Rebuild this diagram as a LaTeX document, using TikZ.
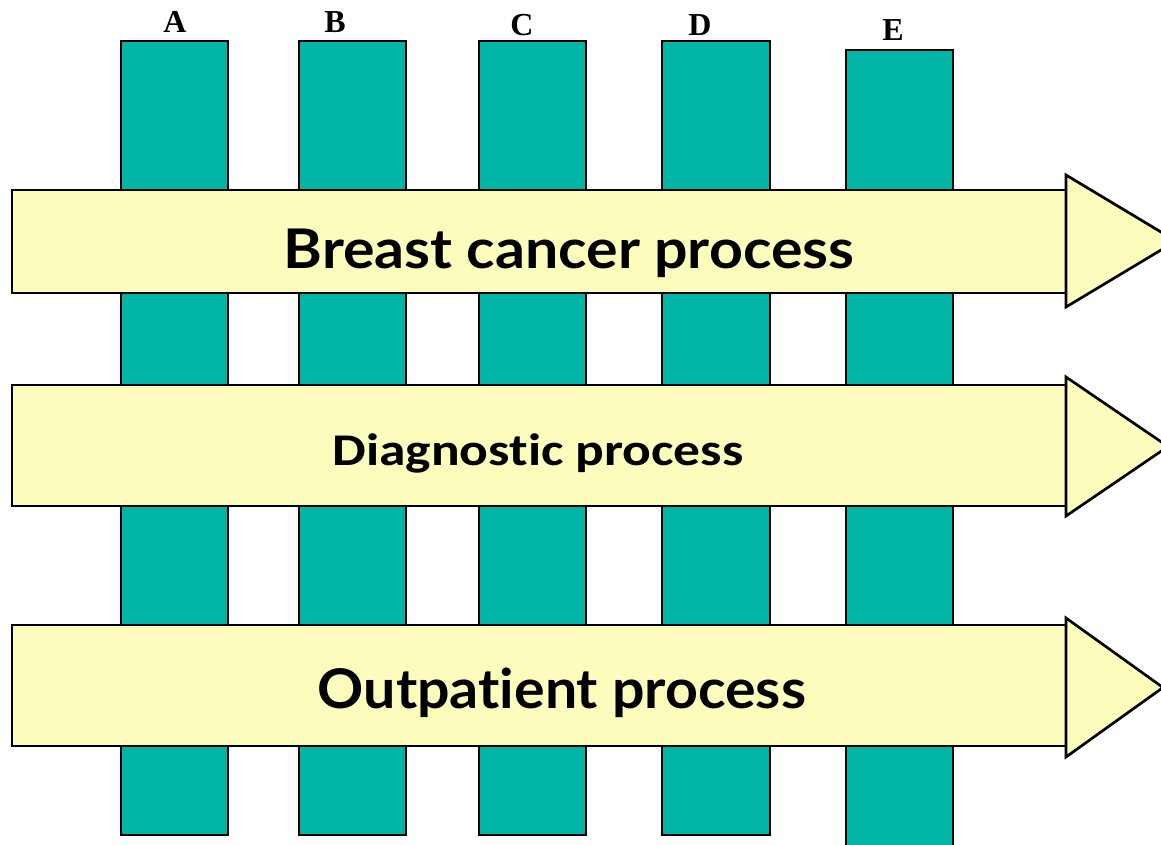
\documentclass[tikz,border=0pt]{standalone}
\usepackage{fontspec}
\setmainfont{Liberation Serif}
\newfontfamily\comicfont[FakeStretch=1.08,Ligatures={NoCommon}]{Lato}
\newfontfamily\calfont[FakeStretch=1.18,Ligatures={NoCommon}]{Carlito}
\definecolor{teal1}{RGB}{0,181,166}
\definecolor{pale}{RGB}{252,252,188}
\tikzset{
  colbox/.style={fill=teal1,draw=black,line width=1.6pt},
  barbox/.style={fill=pale,draw=black,line width=2pt,line join=miter},
  collabel/.style={font=\bfseries\fontsize{24}{24}\selectfont,anchor=base,inner sep=0pt},
  comiclabel/.style={font=\comicfont\bfseries\fontsize{41}{41}\selectfont,anchor=base,inner sep=0pt},
  callabel/.style={font=\calfont\bfseries\fontsize{34}{34}\selectfont,anchor=base,inner sep=0pt}
}
\begin{document}
\begin{tikzpicture}[x=0.75pt,y=-0.75pt]
\useasboundingbox (0,0) rectangle (1161,844);
\begin{scope}
\clip (0,0) rectangle (1161,844);
% columns
\draw[colbox] (121,41) rectangle (228,835);
\draw[colbox] (299,41) rectangle (406,835);
\draw[colbox] (479,41) rectangle (586,835);
\draw[colbox] (662,41) rectangle (770,835);
\draw[colbox] (846,50) rectangle (953,860);
% bars
\draw[barbox] (12,190) rectangle (1066,293);
\draw[barbox] (1066,175) -- (1176,241) -- (1066,307) -- cycle;
\draw[barbox] (12,385) rectangle (1066,506);
\draw[barbox] (1066,377) -- (1168,446.5) -- (1066,516) -- cycle;
\draw[barbox] (12,625) rectangle (1066,746);
\draw[barbox] (1066,618) -- (1163,687.5) -- (1066,757) -- cycle;
\end{scope}
% labels
\node[collabel] (lA) at (175,32) {A};
\node[collabel] (lB) at (335,32) {B};
\node[collabel] (lC) at (522,35) {C};
\node[collabel] (lD) at (700,35) {D};
\node[collabel] (lE) at (893,40) {E};
\node[comiclabel] (t1) at (569,268) {Breast cancer process};
\node[callabel] (t2) at (538,465) {Diagnostic process};
\node[comiclabel,xscale=0.97] (t3) at (562,708) {Outpatient process};
\end{tikzpicture}
\end{document}
